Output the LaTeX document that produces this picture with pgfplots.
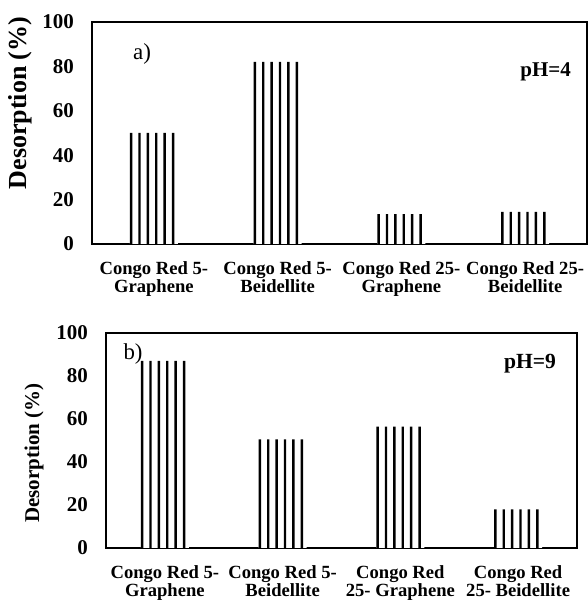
\documentclass[border=0pt]{standalone}
\usepackage{pgfplots}
\usepackage{pgfplotstable}
\pgfplotsset{compat=1.18}
\usepackage{fontspec}
\setmainfont{Liberation Serif}

% Desorption (%) of Congo Red at pH 4 (column a) and pH 9 (column b)
\pgfplotstableread{
x a b
0 50   87
1 82   50.5
2 13.5 56.5
3 14.5 18
}\desorption

\pgfplotsset{
  desorb/.style={
    scale only axis, anchor=south west,
    xmin=-0.5, xmax=3.5, ymin=0, ymax=100,
    xtick={0,1,2,3}, ytick={0,20,...,100},
    major tick length=0pt,
    axis line style={line width=1pt, black},
    /pgf/number format/assume math mode=true,
    yticklabel style={font=\fontsize{10.5}{12}\selectfont\bfseries, xshift=-5.5pt},
    xticklabel style={font=\fontsize{9.3}{8.8}\selectfont\bfseries, align=center, yshift=-5.5pt},
  },
  whitebar/.style={ybar, bar width=24pt, bar shift=0pt, fill=white, draw=none},
  stripe/.style={ybar, bar width=1.2pt, bar shift=#1, fill=black, draw=none},
}

\begin{document}
\begin{tikzpicture}
\useasboundingbox (0,0) rectangle (294pt,300pt);

% panel a) pH = 4
\begin{axis}[desorb, at={(46pt,178pt)}, width=247.5pt, height=111pt,
  xticklabels={Congo Red 5-\\Graphene, Congo Red 5-\\Beidellite,
               Congo Red 25-\\Graphene, Congo Red 25-\\Beidellite}]
  \addplot[whitebar] table[x=x, y=a] {\desorption};
  \pgfplotsinvokeforeach{-11.4pt,-7.2pt,-3.0pt,1.2pt,5.4pt,9.6pt}{
    \addplot[stripe=#1] table[x=x, y=a] {\desorption};
  }
\end{axis}

% panel b) pH = 9
\begin{axis}[desorb, at={(53pt,26pt)}, width=235.5pt, height=107.5pt,
  xticklabels={Congo Red 5-\\Graphene, Congo Red 5-\\Beidellite,
               Congo Red\\25- Graphene, Congo Red\\25- Beidellite}]
  \addplot[whitebar] table[x=x, y=b] {\desorption};
  \pgfplotsinvokeforeach{-11.4pt,-7.2pt,-3.0pt,1.2pt,5.4pt,9.6pt}{
    \addplot[stripe=#1] table[x=x, y=b] {\desorption};
  }
\end{axis}

% axis titles and panel annotations
\node[rotate=90, font=\fontsize{13}{15}\selectfont\bfseries] at (10pt,248.5pt) {Desorption (\%)};
\node[rotate=90, font=\fontsize{10.5}{12}\selectfont\bfseries] at (17pt,73.5pt) {Desorption (\%)};
\node[font=\fontsize{11.5}{13}\selectfont] at (71pt,273pt) {a)};
\node[font=\fontsize{10.5}{12}\selectfont\bfseries] at (272.8pt,264pt) {pH=4};
\node[font=\fontsize{11.4}{13}\selectfont] at (66.5pt,123pt) {b)};
\node[font=\fontsize{10.8}{12}\selectfont\bfseries] at (265pt,118pt) {pH=9};
\end{tikzpicture}
\end{document}
